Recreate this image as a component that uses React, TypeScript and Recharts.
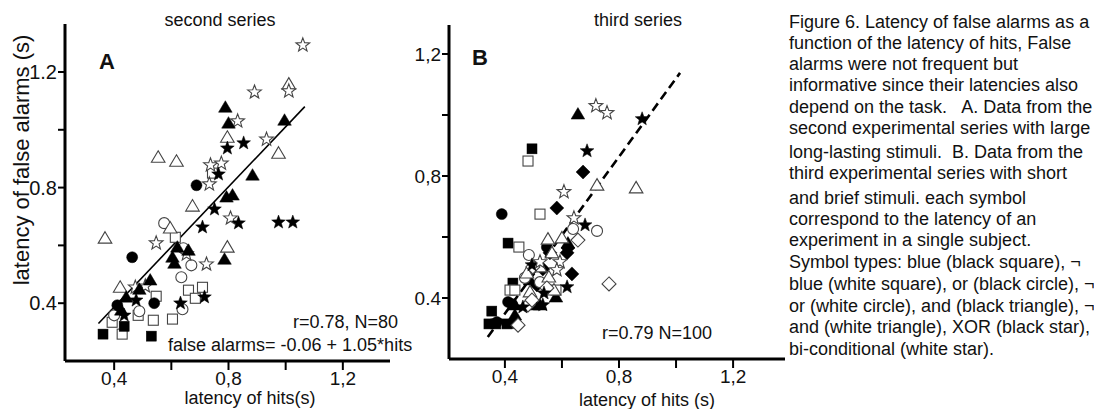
import React from 'react';
import { ScatterChart, Scatter, XAxis, YAxis, ReferenceLine } from 'recharts';

const FONT = '"Liberation Sans", Arial, Helvetica, sans-serif';

// axis ticks (same positions on both panels, labels differ)
const tickValues = [0.4, 0.6, 0.8, 1.0, 1.2];
const xTickLabels = ['0,4', '', '0,8', '', '1,2'];
const aYTickLabels = ['0.4', '', '0.8', '', '1.2'];
const bYTickLabels = ['0.4', '', '0,8', '', '1,2'];

// panel A: second series  [hits, false alarms]
const aBlackSquare = [[0.361, 0.293], [0.435, 0.32], [0.53, 0.286]];
const aWhiteSquare = [
  [0.744, 0.85], [0.614, 0.628], [0.547, 0.424], [0.66, 0.445], [0.709, 0.455], [0.684, 0.417],
  [0.484, 0.358], [0.393, 0.334], [0.537, 0.341], [0.604, 0.345], [0.428, 0.293],
];
const aBlackCircle = [[0.688, 0.808], [0.463, 0.559], [0.411, 0.393], [0.54, 0.4]];
const aWhiteCircle = [
  [0.575, 0.677], [0.642, 0.59], [0.67, 0.531], [0.635, 0.49], [0.639, 0.379], [0.488, 0.372], [0.4, 0.358],
];
const aBlackTriangle = [
  [0.789, 1.078], [0.8, 1.023], [0.996, 1.033], [0.884, 0.843], [0.793, 0.767], [0.814, 0.774],
  [0.621, 0.594], [0.66, 0.583], [0.786, 0.552], [0.604, 0.559], [0.611, 0.538], [0.526, 0.48],
  [0.442, 0.421], [0.488, 0.448], [0.425, 0.376],
];
const aWhiteTriangle = [
  [1.011, 1.158], [0.796, 0.974], [0.975, 0.919], [0.554, 0.905], [0.618, 0.891], [0.674, 0.736],
  [0.596, 0.66], [0.368, 0.625], [0.796, 0.594], [0.421, 0.455],
];
const aBlackStar = [
  [0.796, 0.936], [0.853, 0.954], [0.765, 0.846], [0.751, 0.725], [0.835, 0.677], [0.975, 0.68],
  [1.025, 0.68], [0.709, 0.663], [0.716, 0.421], [0.632, 0.4], [0.477, 0.41], [0.435, 0.358],
];
const aWhiteStar = [
  [1.06, 1.293], [1.011, 1.134], [0.891, 1.13], [0.832, 1.03], [0.933, 0.967], [0.737, 0.878],
  [0.775, 0.884], [0.733, 0.812], [0.807, 0.694], [0.547, 0.608], [0.653, 0.57], [0.723, 0.535],
  [0.509, 0.459], [0.474, 0.455],
];
const aFitLine = [[0.345, 0.33], [1.067, 1.08]];

// panel B: third series
const bBlackSquare = [
  [0.495, 0.889], [0.411, 0.58], [0.428, 0.449], [0.354, 0.357], [0.344, 0.315], [0.368, 0.315], [0.407, 0.315],
];
const bWhiteSquare = [[0.481, 0.849], [0.523, 0.675], [0.449, 0.567], [0.418, 0.426], [0.435, 0.426], [0.579, 0.426]];
const bBlackCircle = [[0.389, 0.675], [0.547, 0.567], [0.411, 0.387], [0.372, 0.321], [0.425, 0.38]];
const bWhiteCircle = [[0.639, 0.626], [0.723, 0.62], [0.484, 0.541], [0.523, 0.452], [0.47, 0.466]];
const bBlackTriangle = [
  [0.656, 1.003], [0.621, 0.58], [0.579, 0.403], [0.523, 0.377], [0.435, 0.377], [0.502, 0.377],
  [0.435, 0.344], [0.488, 0.459],
];
const bWhiteTriangle = [
  [0.723, 0.77], [0.86, 0.761], [0.551, 0.593], [0.6, 0.597], [0.565, 0.548], [0.477, 0.482],
  [0.554, 0.469], [0.572, 0.426], [0.488, 0.42], [0.523, 0.502],
];
const bBlackDiamond = [
  [0.674, 0.813], [0.582, 0.695], [0.621, 0.564], [0.618, 0.548], [0.558, 0.548], [0.635, 0.479],
  [0.533, 0.495], [0.498, 0.498], [0.428, 0.321], [0.512, 0.443],
];
const bWhiteDiamond = [
  [0.656, 0.59], [0.765, 0.446], [0.498, 0.502], [0.481, 0.377], [0.495, 0.393], [0.446, 0.311], [0.547, 0.433],
];
const bBlackStar = [
  [0.881, 0.987], [0.688, 0.882], [0.681, 0.639], [0.618, 0.436], [0.537, 0.416], [0.495, 0.508],
  [0.463, 0.37], [0.533, 0.377],
];
const bWhiteStar = [
  [0.719, 1.03], [0.758, 1.007], [0.607, 0.748], [0.642, 0.662], [0.593, 0.518], [0.582, 0.492], [0.523, 0.518],
];
const bFitLine = [[0.34, 0.272], [1.014, 1.138]];

const captionLines = [
  'Figure 6. Latency of false alarms as a',
  'function of the latency of hits, False',
  'alarms were not frequent but',
  'informative since their latencies also',
  'depend on the task.   A. Data from the',
  'second experimental series with large',
  'long-lasting stimuli.  B. Data from the',
  'third experimental series with short',
  'and brief stimuli. each symbol',
  'correspond to the latency of an',
  'experiment in a single subject.',
  'Symbol types: blue (black square), \u00ac',
  'blue (white square), or (black circle), \u00ac',
  'or (white circle), and (black triangle), \u00ac',
  'and (white triangle), XOR (black star),',
  'bi-conditional (white star).',
];
const captionY = [22, 43, 64, 85, 107, 128, 152, 173, 198, 219, 240, 262, 284, 306, 327, 349];

const pts = (arr: number[][]) => arr.map(([x, y]) => ({ x, y }));

type Kind = 'square' | 'circle' | 'triangle' | 'diamond' | 'star';

function starPath(cx: number, cy: number, R: number) {
  const r = R * 0.42;
  let d = '';
  for (let i = 0; i < 10; i++) {
    const rad = i % 2 === 0 ? R : r;
    const a = -Math.PI / 2 + (i * Math.PI) / 5;
    d += (i === 0 ? 'M' : 'L') + (cx + rad * Math.cos(a)).toFixed(2) + ',' + (cy + rad * Math.sin(a)).toFixed(2);
  }
  return d + 'Z';
}

function Marker({ cx, cy, kind, filled }: { cx: number; cy: number; kind: Kind; filled: boolean }) {
  if (cx == null || cy == null) return null;
  const fill = filled ? '#000' : '#fff';
  const stroke = filled ? '#000' : '#444';
  const sw = filled ? 0.5 : 1.1;
  switch (kind) {
    case 'square':
      return <rect x={cx - 5} y={cy - 5} width={10} height={10} fill={fill} stroke={stroke} strokeWidth={sw} />;
    case 'circle':
      return <circle cx={cx} cy={cy} r={5.5} fill={fill} stroke={stroke} strokeWidth={sw} />;
    case 'triangle':
      return (
        <polygon
          points={`${cx},${cy - 6.5} ${cx + 6.8},${cy + 5} ${cx - 6.8},${cy + 5}`}
          fill={fill} stroke={stroke} strokeWidth={sw}
        />
      );
    case 'diamond':
      return (
        <polygon
          points={`${cx},${cy - 7} ${cx + 7},${cy} ${cx},${cy + 7} ${cx - 7},${cy}`}
          fill={fill} stroke={stroke} strokeWidth={sw}
        />
      );
    default:
      return <path d={starPath(cx, cy, 7.2)} fill={fill} stroke={stroke} strokeWidth={sw} />;
  }
}

const shapeFor = (kind: Kind, filled: boolean) => (props: any) =>
  <Marker cx={props.cx} cy={props.cy} kind={kind} filled={filled} />;

function Panel({
  width, height, margin, xDomain, yDomain, yLabels, yTickFont, series, fit, dashed,
}: {
  width: number; height: number;
  margin: { top: number; right: number; bottom: number; left: number };
  xDomain: [number, number]; yDomain: [number, number];
  yLabels: string[]; yTickFont: number;
  series: { data: number[][]; kind: Kind; filled: boolean }[];
  fit: number[][]; dashed?: boolean;
}) {
  return (
    <ScatterChart width={width} height={height} margin={margin}>
      <XAxis
        type="number" dataKey="x" domain={xDomain} allowDataOverflow ticks={tickValues}
        tickFormatter={(_v: number, i: number) => xTickLabels[i]}
        axisLine={{ stroke: '#000', strokeWidth: 3 }} tickLine={{ stroke: '#000', strokeWidth: 2 }}
        tickSize={9} tickMargin={2} height={40}
        tick={{ fontSize: 19, fill: '#111', fontFamily: FONT }}
      />
      <YAxis
        type="number" dataKey="y" domain={yDomain} allowDataOverflow ticks={tickValues}
        tickFormatter={(_v: number, i: number) => yLabels[i]}
        axisLine={{ stroke: '#000', strokeWidth: 3 }} tickLine={{ stroke: '#000', strokeWidth: 2 }}
        tickSize={7} tickMargin={1} width={50}
        tick={{ fontSize: yTickFont, fill: '#111', fontFamily: FONT }}
      />
      <ReferenceLine
        segment={[{ x: fit[0][0], y: fit[0][1] }, { x: fit[1][0], y: fit[1][1] }]}
        stroke="#000" strokeWidth={dashed ? 2.6 : 1.6} strokeDasharray={dashed ? '9 5' : undefined}
        ifOverflow="visible"
      />
      {series.map((s, i) => (
        <Scatter key={i} data={pts(s.data)} shape={shapeFor(s.kind, s.filled)} isAnimationActive={false} />
      ))}
    </ScatterChart>
  );
}

const abs = (left: number, top: number, extra: React.CSSProperties = {}): React.CSSProperties => ({
  position: 'absolute', left, top, fontFamily: FONT, color: '#111', whiteSpace: 'nowrap', ...extra,
});

export default function App() {
  const aSeries = [
    { data: aWhiteSquare, kind: 'square' as Kind, filled: false },
    { data: aWhiteCircle, kind: 'circle' as Kind, filled: false },
    { data: aWhiteTriangle, kind: 'triangle' as Kind, filled: false },
    { data: aWhiteStar, kind: 'star' as Kind, filled: false },
    { data: aBlackSquare, kind: 'square' as Kind, filled: true },
    { data: aBlackCircle, kind: 'circle' as Kind, filled: true },
    { data: aBlackTriangle, kind: 'triangle' as Kind, filled: true },
    { data: aBlackStar, kind: 'star' as Kind, filled: true },
  ];
  const bSeries = [
    { data: bBlackSquare, kind: 'square' as Kind, filled: true },
    { data: bBlackCircle, kind: 'circle' as Kind, filled: true },
    { data: bBlackTriangle, kind: 'triangle' as Kind, filled: true },
    { data: bBlackDiamond, kind: 'diamond' as Kind, filled: true },
    { data: bWhiteSquare, kind: 'square' as Kind, filled: false },
    { data: bWhiteCircle, kind: 'circle' as Kind, filled: false },
    { data: bWhiteTriangle, kind: 'triangle' as Kind, filled: false },
    { data: bWhiteDiamond, kind: 'diamond' as Kind, filled: false },
    { data: bBlackStar, kind: 'star' as Kind, filled: true },
    { data: bWhiteStar, kind: 'star' as Kind, filled: false },
  ];

  return (
    <div style={{ position: 'absolute', left: 0, top: 0, width: 1094, height: 409, background: '#fff', overflow: 'hidden' }}>
      <div style={{ position: 'absolute', left: 0, top: 0 }}>
        <Panel
          width={400} height={409} margin={{ top: 24, right: 10, bottom: 8, left: 15 }}
          xDomain={[0.228, 1.365]} yDomain={[0.2, 1.366]} yLabels={aYTickLabels} yTickFont={20}
          series={aSeries} fit={aFitLine}
        />
      </div>
      <div style={{ position: 'absolute', left: 400, top: 0 }}>
        <Panel
          width={394} height={409} margin={{ top: 25, right: 9, bottom: 10, left: -1 }}
          xDomain={[0.204, 1.382]} yDomain={[0.2, 1.295]} yLabels={bYTickLabels} yTickFont={19}
          series={bSeries} fit={bFitLine} dashed
        />
      </div>

      {/* panel A texts */}
      <div style={abs(220, 20, { fontSize: 18, transform: 'translate(-50%,-50%)' })}>second series</div>
      <div style={abs(107, 62, { fontSize: 22, fontWeight: 'bold', transform: 'translate(-50%,-50%)' })}>A</div>
      <div style={abs(22, 160, { fontSize: 22, transform: 'translate(-50%,-50%) rotate(-90deg)' })}>
        latency of false alarms (s)
      </div>
      <div style={abs(398, 322, { fontSize: 18, transform: 'translate(-100%,-50%)' })}>r=0.78, N=80</div>
      <div style={abs(168, 345, { fontSize: 18, transform: 'translate(0,-50%)' })}>false alarms= -0.06 + 1.05*hits</div>
      <div style={abs(250, 398, { fontSize: 18, transform: 'translate(-50%,-50%)' })}>latency of hits(s)</div>

      {/* panel B texts */}
      <div style={abs(638, 20, { fontSize: 18, transform: 'translate(-50%,-50%)' })}>third series</div>
      <div style={abs(480, 58, { fontSize: 22, fontWeight: 'bold', transform: 'translate(-50%,-50%)' })}>B</div>
      <div style={abs(657, 333, { fontSize: 18, transform: 'translate(-50%,-50%)' })}>r=0.79 N=100</div>
      <div style={abs(647, 400, { fontSize: 18, transform: 'translate(-50%,-50%)' })}>latency of hits (s)</div>

      {/* caption */}
      {captionLines.map((line, i) => (
        <div key={i} style={abs(789, captionY[i], { fontSize: 18, transform: 'translate(0,-50%)', whiteSpace: 'pre' })}>
          {line}
        </div>
      ))}
    </div>
  );
}
